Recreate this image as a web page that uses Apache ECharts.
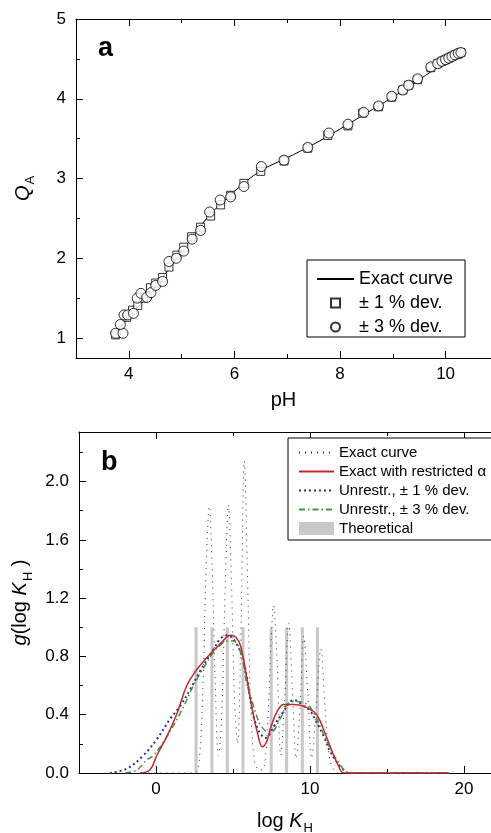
<!DOCTYPE html>
<html>
<head>
<meta charset="utf-8">
<script src="https://cdn.jsdelivr.net/npm/echarts@6/dist/echarts.min.js"></script>
<style>
html, body { margin: 0; padding: 0; background: #fff; }
#chart { width: 491px; height: 833px; }
</style>
</head>
<body>
<div id="chart"></div>
<script>
// ---- panel a : Q_A against pH ----
var curvePH = [3.7, 4.0, 4.5, 5.0, 5.5, 6.0, 6.5, 7.0, 7.5, 8.0, 8.5, 9.0, 9.5, 10.0, 10.3];
var curveQ = [1.03, 1.26, 1.64, 2.08, 2.52, 2.84, 3.1, 3.26, 3.43, 3.62, 3.82, 4.02, 4.24, 4.46, 4.58];

var dev1PH = [3.75, 3.96, 4.07, 4.17, 4.28, 4.41, 4.51, 4.64, 4.76, 4.91, 5.04, 5.19, 5.36, 5.55, 5.74, 5.93,
    6.18, 6.5, 6.94, 7.39, 7.77, 8.15, 8.43, 8.73, 8.98, 9.19, 9.3, 9.47, 9.72, 9.85, 9.93, 10.0, 10.06,
    10.12, 10.18, 10.24, 10.29];
var dev1Q = [1.04, 1.26, 1.35, 1.41, 1.5, 1.63, 1.69, 1.76, 1.89, 2.04, 2.14, 2.27, 2.39, 2.53, 2.67, 2.79,
    2.94, 3.09, 3.22, 3.38, 3.54, 3.66, 3.82, 3.9, 4.02, 4.11, 4.17, 4.24, 4.39, 4.44, 4.47, 4.49, 4.51,
    4.53, 4.55, 4.56, 4.58];

var dev3PH = [3.75, 3.89, 3.84, 3.91, 3.98, 4.09, 4.16, 4.23, 4.34, 4.42, 4.51, 4.64, 4.76, 4.9, 5.04, 5.2,
    5.36, 5.53, 5.73, 5.93, 6.18, 6.51, 6.94, 7.39, 7.79, 8.15, 8.45, 8.73, 8.98, 9.19, 9.3, 9.47, 9.72,
    9.85, 9.93, 10.0, 10.06, 10.12, 10.18, 10.24, 10.29];
var dev3Q = [1.06, 1.06, 1.17, 1.29, 1.29, 1.31, 1.5, 1.56, 1.51, 1.57, 1.66, 1.71, 1.96, 2.0, 2.09, 2.24,
    2.35, 2.58, 2.73, 2.77, 2.9, 3.15, 3.23, 3.39, 3.57, 3.68, 3.83, 3.91, 4.03, 4.11, 4.17, 4.25, 4.4,
    4.44, 4.47, 4.49, 4.51, 4.53, 4.55, 4.57, 4.58];

var phMajor = [4, 6, 8, 10];
var phMinor = [5, 7, 9];
var qMajor = [1, 2, 3, 4, 5];
var qMinor = [1.5, 2.5, 3.5, 4.5];

// ---- panel b : g(log K_H) ----
var exactK = [-0.5, 2.5, 2.8, 3.05, 3.25, 3.46, 3.65, 3.85, 4.05, 4.25, 4.5, 4.7, 4.9, 5.1, 5.3, 5.5, 5.74,
    5.95, 6.15, 6.4, 6.7, 7.0, 7.25, 7.45, 7.63, 7.85, 8.1, 8.35, 8.61, 8.85, 9.1, 9.35, 9.59, 9.85, 10.1,
    10.4, 10.7, 10.95, 11.2, 11.45, 11.8, 19];
var exactG = [0, 0, 0.08, 0.6, 1.4, 1.83, 1.4, 0.6, 0.12, 0.35, 1.3, 1.84, 1.3, 0.5, 0.2, 0.9, 2.14,
    1.3, 0.45, 0.08, 0.02, 0.03, 0.35, 0.85, 1.15, 0.8, 0.12, 0.5, 1.03, 0.6, 0.1, 0.45, 0.94, 0.55, 0.1,
    0.45, 0.85, 0.5, 0.15, 0.04, 0, 0];

var restrK = [-1.04, -0.4, 0.05, 0.7, 1.37, 2.0, 2.65, 3.2, 3.74, 4.3, 4.83, 5.2, 5.5, 5.9, 6.3, 6.6, 6.9,
    7.2, 7.44, 7.9, 8.3, 8.96, 9.6, 10.26, 10.6, 11.13, 11.5, 11.8, 12.2, 15, 19];
var restrG = [0, 0.02, 0.12, 0.25, 0.41, 0.6, 0.71, 0.78, 0.84, 0.9, 0.945, 0.93, 0.87, 0.65, 0.41, 0.27, 0.18,
    0.22, 0.31, 0.43, 0.47, 0.47, 0.457, 0.42, 0.37, 0.23, 0.13, 0.06, 0, 0, 0];

var un1K = [-3.0, -1.9, -0.83, 0.04, 0.91, 1.57, 2.2, 2.87, 3.74, 4.17, 4.6, 5.15, 5.7, 6.24, 6.57, 6.85,
    7.1, 7.4, 7.65, 8.2, 8.96, 9.6, 10.05, 10.37, 10.9, 11.35, 12.1, 12.55, 15, 19];
var un1G = [0, 0.03, 0.12, 0.23, 0.37, 0.46, 0.57, 0.7, 0.85, 0.92, 0.945, 0.9, 0.76, 0.43, 0.31, 0.26,
    0.24, 0.27, 0.32, 0.41, 0.5, 0.46, 0.42, 0.36, 0.25, 0.14, 0.03, 0, 0, 0];

var un3K = [-2.0, -1.26, -0.6, -0.17, 0.7, 1.67, 2.43, 3.08, 3.74, 4.2, 4.6, 5.04, 5.48, 5.92, 6.13, 6.57,
    6.78, 7.1, 7.44, 8.1, 8.52, 9.07, 9.83, 10.3, 10.7, 11.35, 12.0, 12.5, 15, 19];
var un3G = [0, 0.02, 0.09, 0.12, 0.25, 0.43, 0.6, 0.72, 0.83, 0.88, 0.905, 0.905, 0.83, 0.6, 0.53, 0.38,
    0.33, 0.29, 0.28, 0.38, 0.47, 0.49, 0.47, 0.4, 0.31, 0.16, 0.05, 0, 0, 0];

var theoK = [2.6, 3.63, 4.63, 5.65, 7.48, 8.48, 9.5, 10.48];
var theoG = [1, 1, 1, 1, 1, 1, 1, 1];

var kMajor = [0, 10, 20];
var kMinor = [-5, 5, 15];
var gMajor = [0, 0.4, 0.8, 1.2, 1.6, 2.0];
var gMinor = [0.2, 0.6, 1.0, 1.4, 1.8, 2.2];

var FONT = '"Liberation Sans", Arial, sans-serif';

function pairs(xs, ys) {
    return xs.map(function (x, i) { return [x, ys[i]]; });
}

// one visible axis (line + ticks, maybe labels) or an overlay carrying only minor ticks
function axis(grid, pos, min, max, ticks, len, opt) {
    opt = opt || {};
    var a = {
        type: 'value',
        gridIndex: grid,
        position: pos,
        min: min,
        max: max,
        axisLine: {show: !opt.minor, onZero: false, lineStyle: {color: '#000', width: 1}},
        axisTick: {show: true, inside: true, length: len, customValues: ticks,
            lineStyle: {color: '#000', width: 1}},
        axisLabel: {show: !!opt.labels, customValues: opt.labels, margin: opt.margin || 8,
            color: '#000', fontFamily: FONT, fontSize: 17, formatter: opt.fmt},
        splitLine: {show: false}
    };
    if (opt.name) {
        a.name = opt.name;
        a.nameLocation = 'middle';
        a.nameGap = opt.nameGap;
        a.nameTextStyle = {
            color: '#000', fontFamily: FONT, fontSize: 20,
            rich: {
                n: {fontFamily: FONT, fontSize: 20, lineHeight: 20, color: '#000'},
                i: {fontFamily: FONT, fontSize: 20, lineHeight: 20, fontStyle: 'italic', color: '#000'},
                s: {fontFamily: FONT, fontSize: 13, lineHeight: 13, padding: [15, 0, 0, 1], color: '#000'}
            }
        };
    }
    return a;
}

var fmt1 = function (v) { return v.toFixed(1); };
var noDot = {opacity: 0};

var option = {
    animation: false,
    backgroundColor: '#fff',
    title: [
        {text: 'a', left: 98, top: 35, padding: 0,
            textStyle: {fontFamily: FONT, fontSize: 27, fontWeight: 'bold', color: '#000'}},
        {text: 'b', left: 101, top: 449, padding: 0,
            textStyle: {fontFamily: FONT, fontSize: 27, fontWeight: 'bold', color: '#000'}}
    ],
    // both plots run past the right edge of the picture, so they are cut at x = 491
    grid: [
        {left: 76, top: 19, right: 0, height: 339, outerBoundsMode: 'none'},
        {left: 79, top: 432, right: 0, height: 341, outerBoundsMode: 'none'}
    ],
    xAxis: [
        axis(0, 'bottom', 3, 10.86, phMajor, 7, {labels: phMajor, name: '{n|pH}', nameGap: 32}),
        axis(0, 'bottom', 3, 10.86, phMinor, 4, {minor: true}),
        axis(0, 'top', 3, 10.86, phMajor, 7),
        axis(0, 'top', 3, 10.86, phMinor, 4, {minor: true}),
        axis(1, 'bottom', -5, 21.75, kMajor, 7, {labels: kMajor, name: '{n|log }{i|K}{s|H}', nameGap: 38}),
        axis(1, 'bottom', -5, 21.75, kMinor, 4, {minor: true}),
        axis(1, 'top', -5, 21.75, kMajor, 7),
        axis(1, 'top', -5, 21.75, kMinor, 4, {minor: true})
    ],
    yAxis: [
        axis(0, 'left', 0.75, 5, qMajor, 7, {labels: qMajor, margin: 10, name: '{i|Q}{s|A}', nameGap: 43}),
        axis(0, 'left', 0.75, 5, qMinor, 4, {minor: true}),
        axis(1, 'left', 0, 2.34, gMajor, 7, {labels: gMajor, margin: 10, fmt: fmt1,
            name: '{i|g}{n|(log }{i|K}{s|H}{n| )}', nameGap: 45}),
        axis(1, 'left', 0, 2.34, gMinor, 4, {minor: true})
    ],
    legend: [
        {
            left: 307, top: 260, orient: 'vertical',
            padding: [10, 12, 1, 9], itemGap: 6, itemWidth: 37, itemHeight: 9,
            borderColor: '#000', borderWidth: 1, backgroundColor: '#fff',
            selectedMode: false,
            textStyle: {fontFamily: FONT, fontSize: 18, color: '#000'},
            data: [{name: 'Exact curve', itemStyle: noDot},
                {name: '± 1 % dev.', icon: 'path://M0,0H10V10H0Z'}, '± 3 % dev.']
        },
        {
            left: 288, top: 438, orient: 'vertical',
            padding: [7, 8, 4, 10], itemGap: 4, itemWidth: 35, itemHeight: 13,
            borderColor: '#000', borderWidth: 1, backgroundColor: '#fff',
            selectedMode: false,
            textStyle: {fontFamily: FONT, fontSize: 15, color: '#000'},
            data: [{name: 'Exact curve ', itemStyle: noDot},
                {name: 'Exact with restricted α', itemStyle: noDot},
                {name: 'Unrestr., ± 1 % dev.', itemStyle: noDot},
                {name: 'Unrestr., ± 3 % dev.', itemStyle: noDot},
                {name: 'Theoretical', icon: 'rect'}]
        }
    ],
    series: [
        {
            name: 'Exact curve', type: 'line', xAxisIndex: 0, yAxisIndex: 0,
            data: pairs(curvePH, curveQ), smooth: 0.3, symbol: 'none',
            lineStyle: {color: '#000', width: 1}, z: 2
        },
        {
            name: '± 1 % dev.', type: 'scatter', xAxisIndex: 0, yAxisIndex: 0,
            data: pairs(dev1PH, dev1Q), symbol: 'rect', symbolSize: 8,
            itemStyle: {color: '#fff', borderColor: '#000', borderWidth: 1}, z: 3
        },
        {
            name: '± 3 % dev.', type: 'scatter', xAxisIndex: 0, yAxisIndex: 0,
            data: pairs(dev3PH, dev3Q), symbol: 'circle', symbolSize: 10,
            itemStyle: {color: '#fff', borderColor: '#000', borderWidth: 1}, z: 4
        },
        {
            name: 'Theoretical', type: 'bar', xAxisIndex: 4, yAxisIndex: 2,
            data: pairs(theoK, theoG), barWidth: 3,
            itemStyle: {color: '#c8c8c8'}, z: 1
        },
        {
            name: 'Exact curve ', type: 'line', xAxisIndex: 4, yAxisIndex: 2,
            data: pairs(exactK, exactG), smooth: 0.35, symbol: 'none',
            lineStyle: {color: '#333', width: 1, type: [1, 5]}, z: 2
        },
        {
            name: 'Unrestr., ± 1 % dev.', type: 'line', xAxisIndex: 4, yAxisIndex: 2,
            data: pairs(un1K, un1G), smooth: 0.4, symbol: 'none',
            lineStyle: {color: '#2c2c9c', width: 2, type: [2, 3]}, z: 3
        },
        {
            name: 'Unrestr., ± 3 % dev.', type: 'line', xAxisIndex: 4, yAxisIndex: 2,
            data: pairs(un3K, un3G), smooth: 0.4, symbol: 'none',
            lineStyle: {color: '#3e9a3e', width: 1.5, type: [6, 3, 1.5, 3]}, z: 3
        },
        {
            name: 'Exact with restricted α', type: 'line', xAxisIndex: 4, yAxisIndex: 2,
            data: pairs(restrK, restrG), smooth: 0.4, symbol: 'none',
            lineStyle: {color: '#c62828', width: 1.5}, z: 4
        }
    ]
};

var myChart = echarts.init(document.getElementById('chart'));
myChart.setOption(option);
</script>
</body>
</html>
